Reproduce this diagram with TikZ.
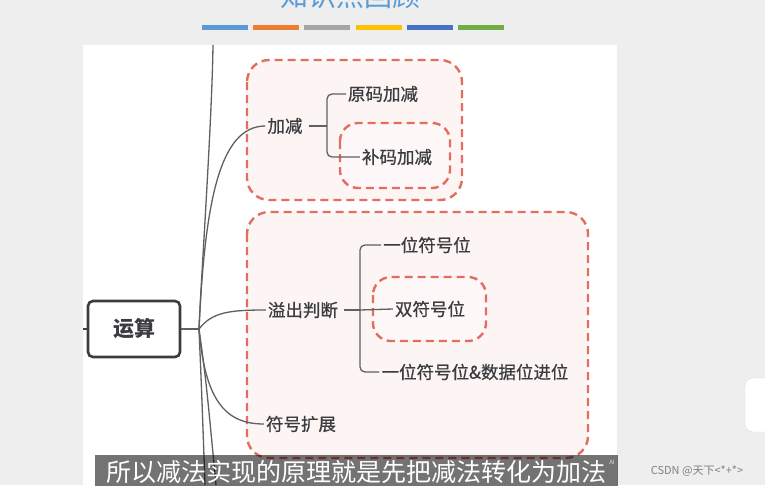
\documentclass[tikz,border=0pt]{standalone}
\usepackage{fontspec}
\setmainfont{Noto Sans CJK SC}
\newfontfamily\zhong{Noto Sans CJK SC}[FakeBold=0.7]
\usetikzlibrary{positioning}
\definecolor{hui}{RGB}{238,238,238}
\definecolor{hong}{RGB}{226,110,98}
\definecolor{fen}{RGB}{253,245,244}
\definecolor{mo}{RGB}{58,60,64}
\definecolor{xianse}{RGB}{96,96,96}
\definecolor{lan}{RGB}{91,155,213}
\definecolor{tiaoA}{RGB}{91,155,213}
\definecolor{tiaoB}{RGB}{237,125,49}
\definecolor{tiaoC}{RGB}{165,165,165}
\definecolor{tiaoD}{RGB}{255,192,0}
\definecolor{tiaoE}{RGB}{68,114,196}
\definecolor{tiaoF}{RGB}{112,173,71}

\begin{document}
\begin{tikzpicture}[x=1pt, y=-1pt,
  zi/.style={text=mo, inner sep=2pt, font=\zhong\fontsize{17.5}{19}\selectfont},
  gen/.style={draw=mo, line width=2.6pt, rounded corners=5pt, fill=white, minimum width=92pt, minimum height=56pt, font=\fontsize{21}{24}\selectfont\bfseries, text=mo},
  kuang/.style={draw=hong, line width=2.4pt, dash pattern=on 8pt off 5pt, fill=fen, rounded corners=22pt},
  xian/.style={draw=xianse, line width=1.3pt, rounded corners=5pt}]
\clip (0,0) rectangle (765,485);
\fill[hui] (0,0) rectangle (765,485);
\fill[white] (83,45) rectangle (617,485);
% title and colour bars
\node[text=lan, font=\fontsize{28}{30}\selectfont, anchor=base] (biaoti) at (350,6) {知识点回顾};
\foreach \c [count=\i from 0] in {tiaoA,tiaoB,tiaoC,tiaoD,tiaoE,tiaoF}
  \fill[\c] ({202+\i*51.2},25) rectangle +(46,5);
% frames
\draw[kuang] (247,60) rectangle (462,200);
\draw[kuang] (247,212) rectangle (588,458);
\draw[kuang, rounded corners=18pt, fill=fen!60!hong!12] (340,123) rectangle (450,188);
\draw[kuang, rounded corners=18pt, fill=fen!60!hong!12] (373,277) rectangle (486,341);
% nodes
\node[gen] (yunsuan) at (134,329) {运算};
\node[zi] (jiajian) at (285,126) {加减};
\node[zi] (yuanma) at (383,94) {原码加减};
\node[zi] (buma) at (397,157) {补码加减};
\node[zi] (yichu) at (303,310) {溢出判断};
\node[zi] (yiwei) at (427,245) {一位符号位};
\node[zi] (shuang) at (430,309) {双符号位};
\node[zi] (jinwei) at (475,372) {一位符号位\&数据位进位};
\node[zi] (kuozhan) at (301,424) {符号扩展};
% connectors
\coordinate (hub) at (199,329);
\coordinate (zuo) at (83,329);
\coordinate (shang) at (213,45);
\coordinate (xia1) at (205,485);
\coordinate (xia2) at (216,485);
\draw[mo, line width=2.6pt] (zuo) -- (yunsuan.west);
\draw[xian] (yunsuan.east) -- (hub);
\draw[xian] (hub) .. controls (201,280) and (212,120) .. (shang);
\draw[xian] (hub) .. controls (205,200) and (220,126) .. (jiajian.west);
\draw[xian] (hub) .. controls (212,312) and (230,310) .. (yichu.west);
\draw[xian] (hub) .. controls (205,400) and (225,424) .. (kuozhan.west);
\draw[xian] (hub) .. controls (202,400) .. (xia1);
\draw[xian] (hub) .. controls (206,380) .. (xia2);
\coordinate (cha1) at (327,126);
\draw[xian, shorten <=4pt] (jiajian.east) -- (cha1);
\draw[xian] (cha1) |- (yuanma.west);
\draw[xian] (cha1) |- (buma.west);
\coordinate (cha2) at (360,310);
\draw[xian, shorten <=4pt] (yichu.east) -- (cha2);
\draw[xian] (cha2) |- (yiwei.west);
\draw[xian] (cha2) -- (shuang.west);
\draw[xian] (cha2) |- (jinwei.west);
% subtitle and overlays
\fill[black, opacity=0.55] (95,455) rectangle (618,490);
\node[text=white, font=\fontsize{25}{27}\selectfont] (zimu) at (356,472) {所以减法实现的原理就是先把减法转化为加法};
\node[text=white!75!gray, font=\fontsize{6}{7}\selectfont] (ai) at (612,462) {AI};
\node[text=gray, font=\fontsize{11}{12}\selectfont] (csdn) at (697,471) {CSDN @天下<*+*>};
\fill[white, draw=gray!30, rounded corners=8pt] (745,378) rectangle (790,432);
\end{tikzpicture}
\end{document}
